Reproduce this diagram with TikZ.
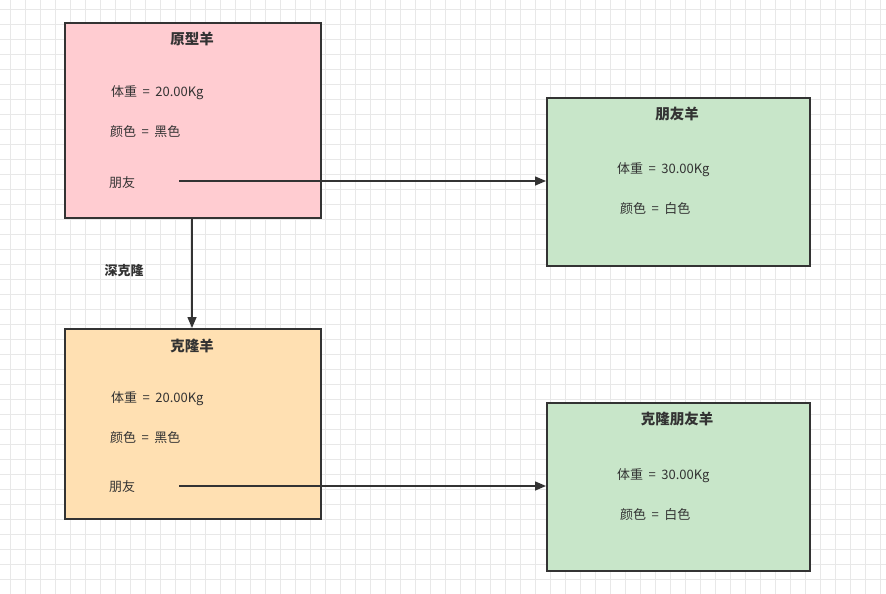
\documentclass[tikz,border=0pt]{standalone}
\usepackage{fontspec}
\setmainfont{Noto Sans CJK SC}
\usetikzlibrary{arrows.meta}
\definecolor{gridc}{HTML}{E8E8E8}
\definecolor{ink}{HTML}{333333}
\definecolor{pinkf}{HTML}{FFCCD1}
\definecolor{greenf}{HTML}{C8E6C9}
\definecolor{orangef}{HTML}{FFE0B2}
\newcommand{\eqsep}{\hspace{0.42em}=\hspace{0.42em}}
\tikzset{
  box/.style={draw=ink, line width=1.8pt, minimum width=#1, inner sep=0pt, anchor=north west},
  title/.style={font=\bfseries\fontsize{14.5}{16}\selectfont, text=ink, anchor=center},
  attr/.style={font=\fontsize{13}{15}\selectfont, text=ink, anchor=west, inner sep=0pt},
  conn/.style={draw=ink, line width=1.5pt, -{Triangle[length=11pt,width=9pt]}},
}
\begin{document}
\begin{tikzpicture}[x=1pt,y=-1pt]
\useasboundingbox (0,0) rectangle (886,594);
\fill[white] (0,0) rectangle (886,594);
\foreach \gx in {10,25,...,880} \draw[gridc, line width=0.8pt] (\gx,0) -- (\gx,594);
\foreach \gy in {9.5,24.5,...,590} \draw[gridc, line width=0.8pt] (0,\gy) -- (886,\gy);

% boxes
\node[box=256pt, minimum height=195pt, fill=pinkf] (proto) at (64,22) {};
\node[box=263pt, minimum height=168pt, fill=greenf] (friend) at (546,97) {};
\node[box=256pt, minimum height=190pt, fill=orangef] (clone) at (64,328) {};
\node[box=263pt, minimum height=168pt, fill=greenf] (cfriend) at (546,402) {};

% prototype texts
\node[title] (t1) at (192,39) {原型羊};
\node[attr] (w1) at (111,92.5) {体重\eqsep 20.00Kg};
\node[attr] (c1) at (110,131.5) {颜色\eqsep 黑色};
\node[attr] (f1) at (109,183) {朋友};
\coordinate (s1) at (179,181);

% friend texts
\node[title] (t2) at (677,114) {朋友羊};
\node[attr] (w2) at (617,169.5) {体重\eqsep 30.00Kg};
\node[attr] (c2) at (620,208.5) {颜色\eqsep 白色};

% clone texts
\node[title] (t3) at (192,346) {克隆羊};
\node[attr] (w3) at (111,398.5) {体重\eqsep 20.00Kg};
\node[attr] (c3) at (110,437.5) {颜色\eqsep 黑色};
\node[attr] (f3) at (109,487) {朋友};
\coordinate (s3) at (179,486);

% clone friend texts
\node[title] (t4) at (677,419) {克隆朋友羊};
\node[attr] (w4) at (617,475.5) {体重\eqsep 30.00Kg};
\node[attr] (c4) at (620,514.5) {颜色\eqsep 白色};

% connectors
\draw[conn] (s1) -- (s1 -| friend.west);
\draw[conn] (s3) -- (s3 -| cfriend.west);
\draw[conn] (proto.south -| 192,0) -- (clone.north -| 192,0);
\node[font=\bfseries\fontsize{13}{15}\selectfont, text=ink] (deep) at (124,271) {深克隆};
\end{tikzpicture}
\end{document}
